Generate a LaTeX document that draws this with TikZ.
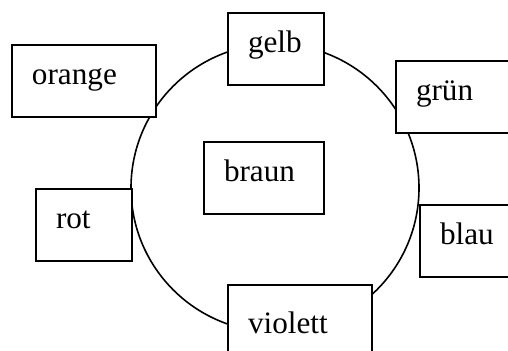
\documentclass[tikz,border=0pt]{standalone}
\usepackage{fontspec}
\setmainfont{Liberation Serif}

\begin{document}
\begin{tikzpicture}[x=0.5pt, y=-0.5pt,
		farbe/.style={rectangle, draw, fill=white, line width=1pt,
			anchor=north west, inner xsep=10pt, inner ysep=0pt,
			minimum height=36pt, text height=0.55em, text depth=0.18em,
			align=left, font=\fontsize{15.6}{18}\selectfont}]
					\useasboundingbox (0,0) rectangle (508,351);
					\clip (0,0) rectangle (508,351);

					% the ring behind the boxes
					\node[circle,
						draw,
						line width=0.8pt,
						minimum size=144pt,
						inner sep=0pt
					] (kreis) at (275,188) {};

					\node[farbe, text width=52pt] (orange) at (11,44) {orange};
					\node[farbe, text width=28pt] (gelb) at (227,12) {gelb};
					\node[farbe, text width=50pt] (gruen) at (395,60) {grün};
					\node[farbe, text width=40pt] (braun) at (203,141) {braun};
					\node[farbe, text width=28pt] (rot) at (35,188) {rot};
					\node[farbe, text width=45pt] (blau) at (419,204) {blau};
					\node[farbe, text width=52pt, minimum height=45pt] (violett) at (227,284) {violett};
				\end{tikzpicture}
\end{document}
